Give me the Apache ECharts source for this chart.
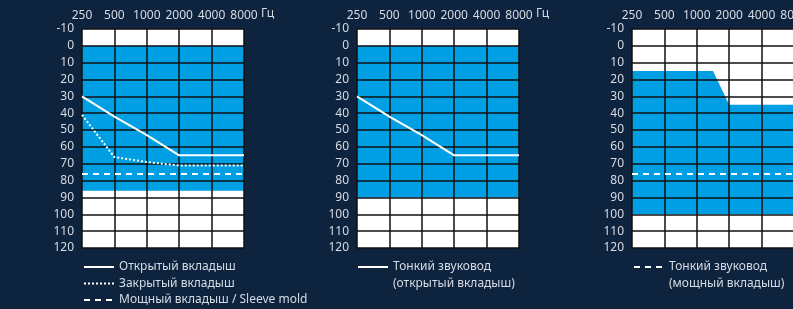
<!DOCTYPE html>
<html><head><meta charset="utf-8">
<script src="https://cdn.jsdelivr.net/npm/echarts@6/dist/echarts.min.js"></script>
<style>html,body{margin:0;padding:0;background:#0e233e;}#c{width:793px;height:309px;}</style>
</head><body><div id="c"></div>
<script>
// ---- data ----
const freqs = [250, 500, 1000, 2000, 4000, 8000];
const freqLabels = ['250', '500', '1000', '2000', '4000', '8000'];
const unitLabel = 'Гц';
// panel 1
const openFit = [30, 42, 53, 65, 65, 65];
const closedFit = [41, 66, 69, 71, 71, 71];
const powerFit = [76, 76, 76, 76, 76, 76];
const band1Top = [0, 0, 0, 0, 0, 0];
const band1Bottom = [86, 86, 86, 86, 86, 86];
// panel 2
const thinTubeOpen = [30, 42, 53, 65, 65, 65];
const band2Top = [0, 0, 0, 0, 0, 0];
const band2Bottom = [90, 90, 90, 90, 90, 90];
// panel 3
const thinTubePower = [76, 76, 76, 76, 76, 76];
const band3Freqs = [250, 500, 1000, 1414, 2000, 4000, 8000];
const band3Top = [15, 15, 15, 15, 35, 35, 35];
const band3Bottom = [100, 100, 100, 100, 100, 100, 100];

const names1 = ['Открытый вкладыш', 'Закрытый вкладыш', 'Мощный вкладыш / Sleeve mold'];
const names2 = ['Тонкий звуковод', '(открытый вкладыш)'];
const names3 = ['Тонкий звуковод ', '(мощный вкладыш)'];

// ---- helpers ----
const FONT = 'Noto Sans';
const TXT = '#d6dce4';
const BLUE = '#009fe3';
const GRIDLINE = '#111';
const xPos = f => Math.log2(f / 250);
const pts = (fs, vals) => fs.map((f, i) => [xPos(f), vals[i]]);

const gridLefts = [82, 357, 632];
const GRID_TOP = 29, GRID_W = 162, GRID_H = 219;
const grids = gridLefts.map(l => ({
  left: l, top: GRID_TOP, width: GRID_W, height: GRID_H, outerBoundsMode: 'none', containLabel: false,
  show: true, backgroundColor: '#ffffff', borderWidth: 0
}));

const xAxes = grids.map((g, i) => ({
  type: 'value', gridIndex: i, min: 0, max: 5, interval: 1, position: 'top', z: 5,
  axisLine: {show: false}, axisTick: {show: false},
  splitLine: {show: true, lineStyle: {color: GRIDLINE, width: 1.5}},
  axisLabel: {color: TXT, fontFamily: FONT, fontSize: 12, margin: 7, hideOverlap: false,
    formatter: v => freqLabels[Math.round(v)] || ''}
}));

const yAxes = grids.map((g, i) => ({
  type: 'value', gridIndex: i, min: -10, max: 120, interval: 10, inverse: true, z: 5,
  axisLine: {show: false}, axisTick: {show: false},
  splitLine: {show: true, lineStyle: {color: GRIDLINE, width: 1.5}},
  axisLabel: {color: TXT, fontFamily: FONT, fontSize: 12, margin: 8}
}));

function band(idx, fs, top, bottom) {
  const data = fs.map((f, i) => [xPos(f), top[i], bottom[i]]);
  return {
    type: 'custom', xAxisIndex: idx, yAxisIndex: idx, silent: true, z: 2,
    data: data,
    renderItem: function (params, api) {
      if (params.dataIndex !== 0) return null;
      const upper = data.map(d => api.coord([d[0], d[1]]));
      const lower = data.slice().reverse().map(d => api.coord([d[0], d[2]]));
      return {type: 'polygon', shape: {points: upper.concat(lower)}, style: {fill: BLUE}};
    }
  };
}
function curve(idx, name, vals, type) {
  return {type: 'line', name: name, xAxisIndex: idx, yAxisIndex: idx, data: pts(freqs, vals),
    symbol: 'none', z: 10, clip: false, color: '#ffffff',
    lineStyle: {color: '#ffffff', width: 2, type: type}};
}
function dummy(name) {
  return {type: 'line', name: name, xAxisIndex: 0, yAxisIndex: 0, data: [], symbol: 'none',
    color: 'rgba(0,0,0,0)', lineStyle: {opacity: 0, width: 0}};
}

const series = [
  band(0, freqs, band1Top, band1Bottom),
  band(1, freqs, band2Top, band2Bottom),
  band(2, band3Freqs, band3Top, band3Bottom),
  curve(0, names1[0], openFit, 'solid'),
  curve(0, names1[1], closedFit, [2, 2]),
  curve(0, names1[2], powerFit, [6, 5]),
  curve(1, names2[0], thinTubeOpen, 'solid'),
  dummy(names2[1]),
  curve(2, names3[0], thinTubePower, [6, 5]),
  dummy(names3[1])
];

function legend(left, data) {
  return {left: left, top: 260, orient: 'vertical', itemWidth: 30, itemHeight: 10, itemGap: 2.5,
    padding: 0, height: 60, selectedMode: false, data: data,
    itemStyle: {opacity: 0},
    textStyle: {color: TXT, fontFamily: FONT, fontSize: 12, lineHeight: 14}};
}

const unitTexts = gridLefts.map(l => ({
  type: 'text', left: l + GRID_W + 17, top: 8,
  style: {text: unitLabel, fill: TXT, font: '12px "Noto Sans"'}
}));

const chart = echarts.init(document.getElementById('c'), null, {renderer: 'canvas'});
chart.setOption({
  backgroundColor: '#0e233e',
  animation: false,
  grid: grids, xAxis: xAxes, yAxis: yAxes,
  legend: [legend(83, names1), legend(357, names2), legend(633, names3)],
  graphic: unitTexts,
  series: series
});
</script></body></html>
